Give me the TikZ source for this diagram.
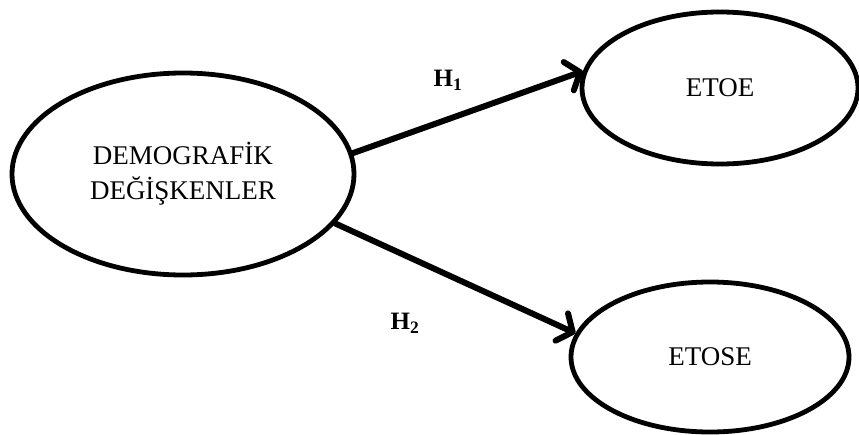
\documentclass[tikz,border=0pt]{standalone}
\usepackage{fontspec}
\setmainfont{Liberation Serif}
\usetikzlibrary{shapes.geometric,arrows.meta}
\begin{document}
\begin{tikzpicture}[x=1pt,y=-1pt,
  oval/.style={ellipse,draw,line width=4.8pt,inner sep=0pt,align=center,
    font=\fontsize{27}{35}\selectfont},
  link/.style={line width=6pt,line cap=round,
    -{Straight Barb[round,length=12pt,width=30pt,line width=6pt]}},
  hyp/.style={font=\fontsize{25}{30}\selectfont\bfseries}]
\useasboundingbox (0,0) rectangle (859,434);
\node[oval,minimum width=342pt,minimum height=202pt] (dem) at (183,174) {DEMOGRAF\.{I}K\\DE\u{G}\.{I}\c{S}KENLER};
\node[oval,minimum width=276pt,minimum height=152pt] (etoe) at (720,88) {ETOE};
\node[oval,minimum width=278pt,minimum height=150pt] (etose) at (710,357) {ETOSE};
\draw[link] (dem.7) -- (etoe.173);
\draw[link] (dem.-18) -- (etose.170);
\node[hyp] (h1) at (448,80) {H\textsubscript{1}};
\node[hyp] (h2) at (405,323) {H\textsubscript{2}};
\end{tikzpicture}
\end{document}
